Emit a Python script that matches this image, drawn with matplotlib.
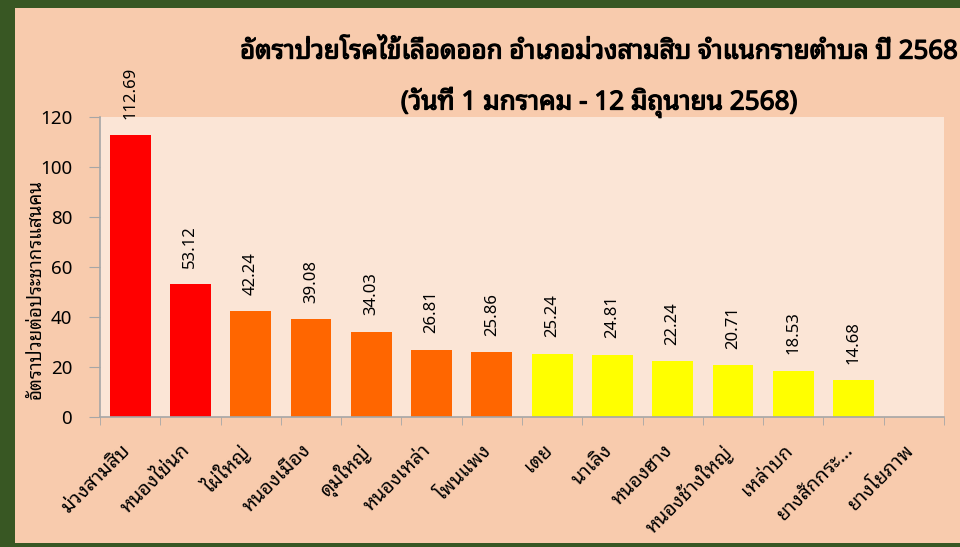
import matplotlib
matplotlib.use("Agg")
import matplotlib.pyplot as plt
import matplotlib.patheffects as pe
import matplotlib.transforms as mtransforms
from matplotlib.patches import Rectangle
import numpy as np

###--- data
tambons = ['ม่วงสามสิบ', 'หนองไข่นก', 'ไผ่ใหญ่', 'หนองเมือง', 'ดุมใหญ่',
           'หนองเหล่า', 'โพนแพง', 'เตย', 'นาเลิง', 'หนองฮาง',
           'หนองช้างใหญ่', 'เหล่าบก', 'ยางสักกระ…', 'ยางโยภาพ']
rates = [112.69, 53.12, 42.24, 39.08, 34.03, 26.81, 25.86, 25.24,
         24.81, 22.24, 20.71, 18.53, 14.68, 0]
bar_colors = ['#FF0000'] * 2 + ['#FF6600'] * 5 + ['#FFFF00'] * 7
yticks = [0, 20, 40, 60, 80, 100, 120]

title1 = 'อัตราป่วยโรคไข้เลือดออก อำเภอม่วงสามสิบ จำแนกรายตำบล ปี 2568'
title2 = '(วันที่ 1 มกราคม - 12 มิถุนายน 2568)'
ylab = 'อัตราป่วยต่อประชากรแสนคน'

###--- style
FONT = ['Noto Sans Thai Looped', 'DejaVu Sans']
plt.rcParams['font.family'] = FONT
GREEN = '#385723'
PEACH = '#F8CBAD'
INNER = '#FBE5D6'
GREY = '#A6A6A6'

fig = plt.figure(figsize=(9.6, 5.47), dpi=100, facecolor=GREEN)
W, H = 960, 547
# peach panel inside the green frame (right side cropped)
fig.patches.append(Rectangle((15 / W, 4 / H), 1.0, 535 / H,
                             transform=fig.transFigure, facecolor=PEACH,
                             edgecolor='none', zorder=-5))

ax = fig.add_axes([100 / W, 1 - 417 / H, (944 - 100) / W, 300 / H])
ax.set_facecolor(INNER)

x = np.arange(len(tambons))
ax.bar(x, rates, width=0.68, color=bar_colors, zorder=2)

for xi, v in zip(x, rates):
    if v > 0:
        ax.annotate(f'{v:.2f}', (xi, v), xytext=(0, 12),
                    textcoords='offset points', rotation=90,
                    ha='center', va='bottom', fontsize=12, annotation_clip=False)

ax.set_xlim(-0.5, len(tambons) - 0.5)
ax.set_ylim(0, 120)
ax.set_yticks(yticks)
ax.tick_params(axis='y', direction='out', length=8, color=GREY, labelsize=13.5, pad=12)

ax.set_xticks(x)
ax.set_xticklabels(tambons, rotation=45, ha='right', va='top', fontsize=14.2)
ax.tick_params(axis='x', which='major', length=0, pad=17)
ax.set_xticks(np.arange(-0.5, len(tambons)), minor=True)
ax.tick_params(axis='x', which='minor', direction='out', length=6, color=GREY)
# nudge labels so their end sits just right of the bar centre
off = mtransforms.ScaledTranslation(4 / 100, 0, fig.dpi_scale_trans)
for lab in ax.get_xticklabels():
    lab.set_transform(lab.get_transform() + off)

for s in ['top', 'right']:
    ax.spines[s].set_visible(False)
for s in ['left', 'bottom']:
    ax.spines[s].set_color(GREY)
    ax.spines[s].set_linewidth(1.2)

bold = [pe.withStroke(linewidth=0.9, foreground='black')]
fig.text(599 / W, 1 - 52 / H, title1, ha='center', va='center',
         fontsize=18.6, path_effects=bold)
fig.text(599 / W, 1 - 102 / H, title2, ha='center', va='center',
         fontsize=18.8, path_effects=bold)
fig.text(36 / W, 1 - 289 / H, ylab, rotation=90, ha='center', va='center',
         fontsize=13.5)

fig.savefig('out.png', dpi=100, facecolor=GREEN)
